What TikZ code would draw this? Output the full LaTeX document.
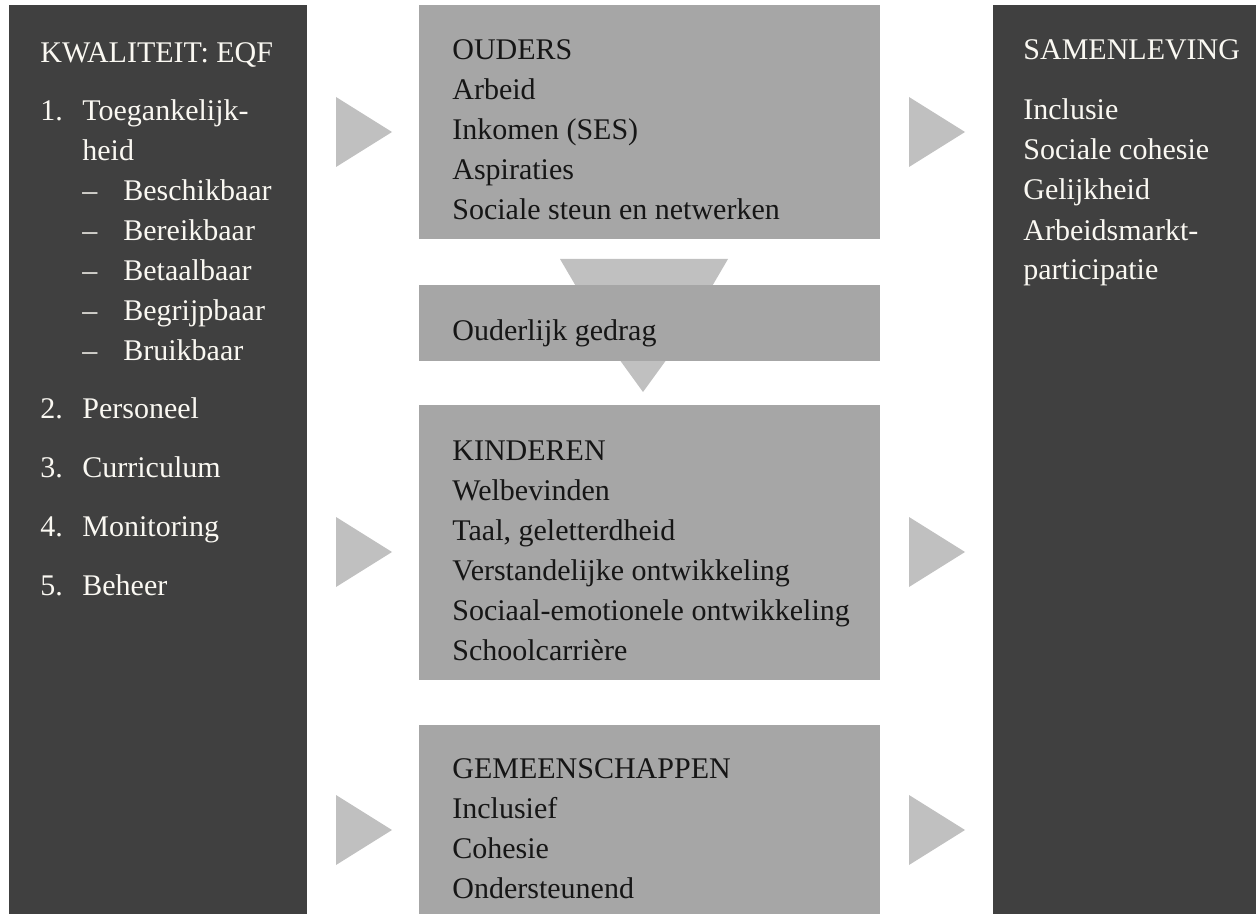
\documentclass[tikz,border=0pt]{standalone}
\usepackage{fontspec}
\setmainfont{Liberation Serif}
\usepackage{tikz}
\definecolor{boxdark}{RGB}{64,64,64}
\definecolor{boxgrey}{RGB}{166,166,166}
\definecolor{arrowgrey}{RGB}{192,192,192}
\definecolor{textlight}{RGB}{250,248,242}
\definecolor{textdark}{RGB}{22,22,22}

\begin{document}
\begin{tikzpicture}[x=0.5pt,y=-0.5pt,
	darkbox/.style={fill=boxdark, inner sep=0pt, anchor=north west},
	greybox/.style={fill=boxgrey, inner sep=0pt, anchor=north west, minimum width=230.5pt},
	lighttext/.style={text=textlight, font=\fontsize{15}{20}\selectfont, align=left, anchor=base west, inner sep=0pt},
	darktext/.style={text=textdark, font=\fontsize{15}{20}\selectfont, align=left, anchor=base west, inner sep=0pt}]
		\useasboundingbox (0,0) rectangle (1256,914);
		\begin{scope}                           % pijlen
			\foreach \y in {132,552,830} {
				\fill[arrowgrey] (336,\y-35) -- (392,\y) -- (336,\y+35) -- cycle;
				\fill[arrowgrey] (909,\y-35) -- (965,\y) -- (909,\y+35) -- cycle;
			}
			\fill[arrowgrey] (560,259) -- (728,259) -- (704,300) -- (584,300) -- cycle;
			\fill[arrowgrey] (598,330) -- (688,330) -- (643,392) -- cycle;
		\end{scope}
		
		\node[darkbox, minimum width=149pt, minimum height=454.5pt] (kwaliteit) at (9,5) {};
		\node[darkbox, minimum width=131.5pt, minimum height=454.5pt] (samenleving) at (993,5) {};
		\node[greybox, minimum height=117pt] (ouders) at (419,5) {};
		\node[greybox, minimum height=38pt] (gedrag) at (419,285) {};
		\node[greybox, minimum height=137.5pt] (kinderen) at (419,405) {};
		\node[greybox, minimum height=94.5pt] (gemeenschappen) at (419,725) {};
		
		% tekst: anker op de basislijn van de laatste regel
		\node[lighttext] (kwaliteittekst) at (40,595) {KWALITEIT: EQF\\[9pt]
			\makebox[21pt][l]{1.}Toegankelijk-\\
			\hspace*{21pt}heid\\
			\hspace*{21pt}\makebox[20.5pt][l]{--}Beschikbaar\\
			\hspace*{21pt}\makebox[20.5pt][l]{--}Bereikbaar\\
			\hspace*{21pt}\makebox[20.5pt][l]{--}Betaalbaar\\
			\hspace*{21pt}\makebox[20.5pt][l]{--}Begrijpbaar\\
			\hspace*{21pt}\makebox[20.5pt][l]{--}Bruikbaar\\[9pt]
			\makebox[21pt][l]{2.}Personeel\\[9.5pt]
			\makebox[21pt][l]{3.}Curriculum\\[9.5pt]
			\makebox[21pt][l]{4.}Monitoring\\[9.5pt]
			\makebox[21pt][l]{5.}Beheer};
		\node[lighttext] (samenlevingtekst) at (1023,280) {SAMENLEVING\\[10pt]
			Inclusie\\ Sociale cohesie\\ Gelijkheid\\ Arbeidsmarkt-\\ participatie};
		\node[darktext] (ouderstekst) at (452,220) {OUDERS\\ Arbeid\\ Inkomen (SES)\\ Aspiraties\\ Sociale steun en netwerken};
		\node[darktext] (gedragtekst) at (452,340) {Ouderlijk gedrag};
		\node[darktext] (kinderentekst) at (452,660) {KINDEREN\\ Welbevinden\\ Taal, geletterdheid\\ Verstandelijke ontwikkeling\\ Sociaal-emotionele ontwikkeling\\ Schoolcarri\`ere};
		\node[darktext] (gemeenschappentekst) at (452,898) {GEMEENSCHAPPEN\\ Inclusief\\ Cohesie\\ Ondersteunend};
		\end{tikzpicture}
\end{document}
